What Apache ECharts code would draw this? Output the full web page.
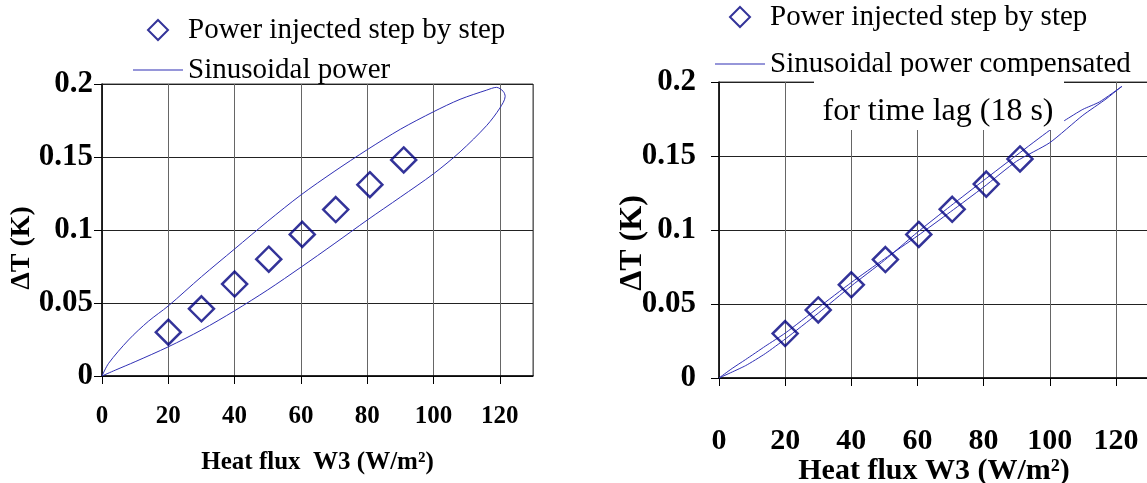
<!DOCTYPE html>
<html lang="en">
<head>
    <meta charset="UTF-8">
    <script src="https://cdn.jsdelivr.net/npm/echarts@6/dist/echarts.min.js"></script>
    <style>
        html, body { margin: 0; padding: 0; background: #fff; }
        #main { width: 1147px; height: 483px; }
    </style>
    <title>Heat flux vs temperature difference</title>
</head>
<body>
<div id="main"></div>
<script type="text/javascript">
    // tick labels of the x axes (W/m2) and y axes (K)
    var xTicks = [0, 20, 40, 60, 80, 100, 120];
    var yTicks = [0, 0.05, 0.1, 0.15, 0.2];

    // power injected step by step (same points in both panels)
    var stepFlux = [20, 30, 40, 50.3, 60.4, 70.5, 80.8, 91];
    var stepDT = [0.030, 0.046, 0.063, 0.080, 0.097, 0.114, 0.131, 0.148];

    // sinusoidal power, left panel: upper branch then lower branch back to 0
    var sinFlux = [0, 2, 8, 14, 20, 30, 40, 50, 60, 70, 80, 90, 100, 108, 116, 119, 121, 121.6, 120, 116, 108, 100, 90, 80, 70, 60, 50, 40, 30, 20, 10, 4, 0];
    var sinDT = [0, 0.0087, 0.0247, 0.0375, 0.048, 0.068, 0.087, 0.106, 0.124, 0.140, 0.155, 0.169, 0.181, 0.1895, 0.1958, 0.1977, 0.195, 0.1915, 0.1835, 0.1715, 0.1535, 0.1385, 0.1225, 0.1068, 0.0905, 0.0745, 0.059, 0.0447, 0.0315, 0.020, 0.0098, 0.004, 0];

    // sinusoidal power compensated for time lag, right panel
    var compFlux = [0, 8, 14, 20, 30, 40, 50, 60, 70, 80, 90, 100, 104.5, 110, 115, 121.8, 121.5, 117, 110, 100, 90, 80, 70, 60, 50, 40, 30, 20, 14, 8, 4, 0];
    var compDT = [0, 0.0083, 0.0165, 0.0263, 0.0438, 0.0622, 0.0795, 0.0985, 0.1162, 0.1335, 0.1506, 0.1674, 0.174, 0.1815, 0.1865, 0.197, 0.1966, 0.1885, 0.1775, 0.159, 0.1465, 0.129, 0.1123, 0.096, 0.0805, 0.0645, 0.0475, 0.0303, 0.0215, 0.0124, 0.0065, 0];

    var SERIF = 'Liberation Serif';
    var LINE_BLUE = '#2f2fb4';
    var NAVY = '#000080';
    // legend glyphs: open diamond and thin line
    var DIAMOND_ICON = 'path://M10,0 L20,10 L10,20 L0,10 Z';
    var LINE_ICON = 'path://M0,0 L50,0 L50,1 L0,1 Z';

    function pairs(xs, ys) {
        var out = [];
        for (var i = 0; i < xs.length; i++) {
            out.push([xs[i], ys[i]]);
        }
        return out;
    }

    function xAxisOf(gridIndex, labelSize, labelMargin, nameSize, nameGap, name) {
        return {
            type: 'value',
            gridIndex: gridIndex,
            min: 0,
            max: 130,
            interval: 20,
            name: name,
            nameLocation: 'middle',
            nameGap: nameGap,
            nameMoveOverlap: false,
            nameTextStyle: { fontFamily: SERIF, fontWeight: 'bold', fontSize: nameSize, color: '#000' },
            axisLine: { show: true, lineStyle: { color: '#000', width: 1.5 } },
            axisTick: { show: true, inside: false, length: 8, lineStyle: { color: '#000' } },
            axisLabel: {
                margin: labelMargin,
                showMaxLabel: false,
                fontFamily: SERIF, fontWeight: 'bold', fontSize: labelSize, color: '#000',
                formatter: function (v) { return xTicks.indexOf(v) >= 0 ? String(v) : ''; }
            },
            splitLine: { show: true, lineStyle: { color: '#666', width: 1 } }
        };
    }

    function yAxisOf(gridIndex, labelSize, labelMargin, nameSize, nameGap, nameShift) {
        return {
            type: 'value',
            gridIndex: gridIndex,
            min: 0,
            max: 0.2,
            interval: 0.05,
            name: '\u0394T (K)',
            nameLocation: 'middle',
            nameGap: nameGap,
            nameMoveOverlap: false,
            nameTextStyle: {
                fontFamily: SERIF, fontWeight: 'bold', fontSize: nameSize, color: '#000',
                padding: [0, nameShift, 0, 0]
            },
            axisLine: { show: true, lineStyle: { color: '#000', width: 1.5 } },
            axisTick: { show: true, inside: false, length: 8, lineStyle: { color: '#000' } },
            axisLabel: {
                margin: labelMargin,
                fontFamily: SERIF, fontWeight: 'bold', fontSize: labelSize, color: '#000',
                formatter: function (v) {
                    for (var i = 0; i < yTicks.length; i++) {
                        if (Math.abs(yTicks[i] - v) < 1e-9) return String(yTicks[i]);
                    }
                    return '';
                }
            },
            splitLine: { show: true, lineStyle: { color: '#222', width: 1 } }
        };
    }

    var chart = echarts.init(document.getElementById('main'));
    var option = {
        animation: false,
        backgroundColor: '#fff',
        grid: [
            { left: 102, top: 84, width: 431, height: 292, outerBoundsMode: 'none', containLabel: false, show: true, borderColor: '#444', borderWidth: 1 },
            { left: 719, top: 82, width: 430, height: 296, outerBoundsMode: 'none', containLabel: false, show: true, borderColor: '#444', borderWidth: 1 }
        ],
        legend: [
            {
                orient: 'vertical', left: 133, top: 13, padding: 0, itemGap: 6,
                itemWidth: 50, itemHeight: 20,
                textStyle: { fontFamily: SERIF, fontSize: 29, color: '#000', lineHeight: 34 },
                data: [
                    { name: 'Power injected step by step', icon: DIAMOND_ICON },
                    { name: 'Sinusoidal power', icon: LINE_ICON }
                ]
            },
            {
                orient: 'vertical', left: 715, top: 0, padding: 0, itemGap: 13,
                itemWidth: 50, itemHeight: 20,
                textStyle: { fontFamily: SERIF, fontSize: 29, color: '#000', lineHeight: 34 },
                data: [
                    { name: 'Power injected step by step', icon: DIAMOND_ICON },
                    { name: 'Sinusoidal power compensated', icon: LINE_ICON }
                ]
            }
        ],
        xAxis: [
            xAxisOf(0, 25, 28, 25, 74, 'Heat flux  W3 (W/m\u00b2)'),
            xAxisOf(1, 30, 48, 30, 78, 'Heat flux W3 (W/m\u00b2)')
        ],
        yAxis: [
            yAxisOf(0, 31, 9, 28, 66, 36),
            yAxisOf(1, 31, 23, 32, 70, 26)
        ],
        graphic: [
            {
                type: 'rect', z: 100,
                shape: { x: 814, y: 76, width: 250, height: 54 },
                style: { fill: '#fff' }
            },
            {
                type: 'text', z: 101,
                style: {
                    text: 'for time lag (18 s)', x: 938, y: 112,
                    align: 'center', verticalAlign: 'middle',
                    fontFamily: SERIF, fontSize: 32, fill: '#000'
                }
            }
        ],
        series: [
            {
                name: 'Sinusoidal power', type: 'line', xAxisIndex: 0, yAxisIndex: 0,
                data: pairs(sinFlux, sinDT), symbol: 'none', smooth: 0.3,
                lineStyle: { color: LINE_BLUE, width: 1 }, itemStyle: { color: LINE_BLUE }
            },
            {
                name: 'Power injected step by step', type: 'scatter', xAxisIndex: 0, yAxisIndex: 0,
                data: pairs(stepFlux, stepDT), symbol: 'diamond', symbolSize: 25, z: 5,
                itemStyle: { color: 'rgba(255,255,255,0)', borderColor: NAVY, borderWidth: 2.5 }
            },
            {
                name: 'Sinusoidal power compensated', type: 'line', xAxisIndex: 1, yAxisIndex: 1,
                data: pairs(compFlux, compDT), symbol: 'none', smooth: 0.2,
                lineStyle: { color: LINE_BLUE, width: 1 }, itemStyle: { color: LINE_BLUE }
            },
            {
                name: 'Power injected step by step', type: 'scatter', xAxisIndex: 1, yAxisIndex: 1,
                data: pairs(stepFlux, stepDT), symbol: 'diamond', symbolSize: 25, z: 5,
                itemStyle: { color: 'rgba(255,255,255,0)', borderColor: NAVY, borderWidth: 2.5 }
            }
        ]
    };
    chart.setOption(option);
</script>
</body>
</html>
